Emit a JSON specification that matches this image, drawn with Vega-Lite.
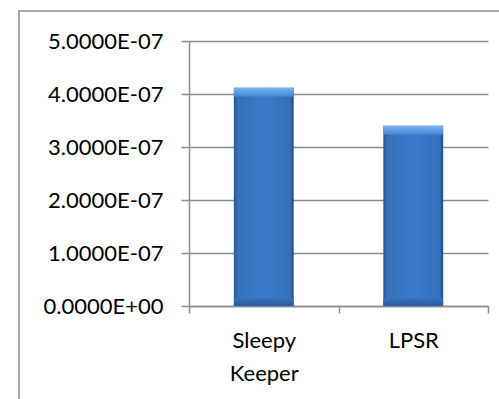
{
  "$schema": "https://vega.github.io/schema/vega-lite/v6.json",
  "width": 480,
  "height": 388,
  "autosize": {"type": "none"},
  "padding": {"left": 19, "top": 11, "right": 0, "bottom": 0},
  "background": "white",
  "data": {
    "values": [
      {"system": "Sleepy Keeper", "energy": 4.12e-7},
      {"system": "LPSR", "energy": 3.4e-7}
    ]
  },
  "encoding": {
    "x": {
      "field": "system",
      "type": "nominal",
      "sort": null,
      "scale": {"range": [170, 469], "paddingInner": 0, "paddingOuter": 0},
      "axis": {
        "title": null,
        "offset": -93,
        "tickBand": "extent",
        "labelAngle": 0,
        "labelExpr": "split(datum.label, ' ')",
        "labelLineHeight": 33,
        "labelPadding": 17,
        "tickSize": 7,
        "grid": false
      }
    },
    "y": {
      "field": "energy",
      "type": "quantitative",
      "scale": {"domain": [0, 5e-7], "range": [295, 30], "nice": false},
      "axis": {
        "title": null,
        "offset": -170,
        "values": [0, 1e-7, 2e-7, 3e-7, 4e-7, 5e-7],
        "labelExpr": "replace(replace(format(datum.value, '.4e'), 'e-', 'E-0'), 'e+', 'E+0')",
        "tickSize": 8,
        "labelPadding": 18,
        "grid": true
      }
    }
  },
  "layer": [
    {
      "mark": {
        "type": "bar",
        "width": {"band": 0.4},
        "fill": {
          "gradient": "linear",
          "x1": 0, "x2": 1, "y1": 0, "y2": 0,
          "stops": [
            {"offset": 0, "color": "#24518f"},
            {"offset": 0.06, "color": "#3670bb"},
            {"offset": 0.5, "color": "#3d7bc9"},
            {"offset": 0.94, "color": "#3670bb"},
            {"offset": 1, "color": "#1f477f"}
          ]
        }
      }
    },
    {
      "mark": {
        "type": "bar",
        "width": {"band": 0.4},
        "y2Offset": 9,
        "fill": {
          "gradient": "linear",
          "x1": 0, "x2": 0, "y1": 0, "y2": 1,
          "stops": [
            {"offset": 0, "color": "#7ab3ef"},
            {"offset": 1, "color": "#4484d4"}
          ]
        }
      },
      "encoding": {"y2": {"field": "energy"}}
    },
    {
      "mark": {
        "type": "bar",
        "width": {"band": 0.4},
        "yOffset": -8,
        "fill": {
          "gradient": "linear",
          "x1": 0, "x2": 0, "y1": 0, "y2": 1,
          "stops": [
            {"offset": 0, "color": "#3670bb"},
            {"offset": 1, "color": "#2a5c9e"}
          ]
        }
      },
      "encoding": {
        "y": {"datum": 0, "type": "quantitative"},
        "y2": {"datum": 0}
      }
    }
  ],
  "config": {
    "font": "Lato",
    "view": {"stroke": "#8c8c8c", "strokeWidth": 1.5, "strokeDash": [480, 868, 388]},
    "axis": {
      "domainColor": "#8c8c8c",
      "domainWidth": 1.5,
      "tickColor": "#8c8c8c",
      "tickWidth": 1.5,
      "gridColor": "#8c8c8c",
      "gridWidth": 1.5,
      "gridOpacity": 1,
      "labelFont": "Lato",
      "labelFontSize": 22,
      "labelColor": "#000000",
      "labelLimit": 0
    }
  }
}
